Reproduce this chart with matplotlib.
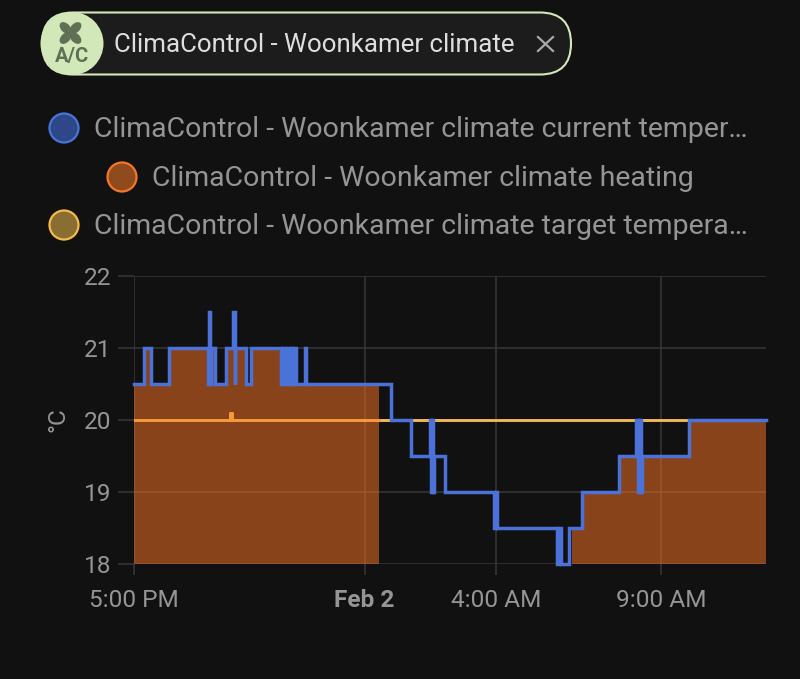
"""Home Assistant climate history card, dark theme."""

import matplotlib
matplotlib.use("Agg")
import matplotlib.pyplot as plt
import numpy as np
from matplotlib.patches import Circle, Ellipse, FancyBboxPatch

plt.rcParams["font.family"] = ["Roboto", "DejaVu Sans"]

# hours after 5:00 PM, and the measured temperature from that moment on
current_hours = [
    0.00, 0.30, 0.53, 1.06, 2.25, 2.28, 2.32, 2.34, 2.46, 2.78, 3.00, 3.05, 3.07,
    3.40, 3.54, 4.45, 4.51, 4.57, 4.63, 4.69, 4.75, 4.81, 4.87, 4.93, 4.98, 5.20, 5.23,
    7.44, 7.79, 8.40, 8.98, 9.02, 9.05, 9.08, 9.09, 9.43, 10.93, 10.98, 11.03,
    12.85, 12.90, 12.96, 13.21, 13.28, 13.59, 14.72,
    15.24, 15.29, 15.34, 15.39, 15.41, 16.84, 19.18,
]
current_temp = [
    20.5, 21.0, 20.5, 21.0, 20.5, 21.5, 20.5, 21.0, 20.5, 21.0, 21.5, 20.5, 21.0,
    20.5, 21.0, 20.5, 21.0, 20.5, 21.0, 20.5, 21.0, 20.5, 21.0, 20.5, 20.5, 21.0, 20.5,
    20.5, 20.0, 19.5, 20.0, 19.0, 20.0, 19.0, 19.5, 19.0, 18.5, 19.0, 18.5,
    18.0, 18.5, 18.0, 18.5, 18.5, 19.0, 19.5,
    20.0, 19.0, 20.0, 19.0, 19.5, 20.0, 20.0,
]
target_hours = [0.00, 2.90, 2.96, 19.18]
target_temp = [20.0, 20.1, 20.0, 20.0]
heating_spans = [(0.00, 7.44), (13.28, 19.18)]

x_ticks = [0, 7, 11, 16]
x_labels = ["5:00 PM", "Feb 2", "4:00 AM", "9:00 AM"]
y_ticks = [18, 19, 20, 21, 22]

legend_labels = [
    "ClimaControl - Woonkamer climate current temper…",
    "ClimaControl - Woonkamer climate heating",
    "ClimaControl - Woonkamer climate target tempera…",
]

BG = "#111111"
GRID = "#383838"
TEXT = "#959595"
BLUE = "#4a72d8"
ORANGE = "#ff7523"
YELLOW = "#eeb955"
GREEN = "#d3e8b9"
ICON = "#5f7056"

fig = plt.figure(figsize=(8, 6.79), dpi=100, facecolor=BG)

# overlay in pixel coordinates for the chip and the legend
top = fig.add_axes([0, 0, 1, 1])
top.set_xlim(0, 800); top.set_ylim(679, 0); top.axis("off")

chip = FancyBboxPatch((42, 12.5), 529, 62, boxstyle="round,pad=0,rounding_size=31",
                      fc="#1c1c1c", ec=GREEN, lw=1.5)
top.add_patch(chip)
top.add_patch(Circle((72, 43.5), 31.5, fc=GREEN, ec="none"))
# fan blades of the A/C icon
for dx, dy, ang in [(-5, -5, 45), (5, -5, -45), (-5, 5, -45), (5, 5, 45)]:
    top.add_patch(Ellipse((70.5 + dx, 33 + dy), 14, 9, angle=ang, fc=ICON, ec="none"))
top.add_patch(Circle((70.5, 33), 3.5, fc=ICON, ec="none"))
top.text(72.5, 56.5, "A/C", color=ICON, fontsize=14.5, fontweight="bold", ha="center", va="center")
top.text(114, 45.5, "ClimaControl - Woonkamer climate", color="#dedede", fontsize=18.6,
         ha="left", va="center")
top.plot([538, 553], [37, 51], color="#a8a8a8", lw=1.6)
top.plot([538, 553], [51, 37], color="#a8a8a8", lw=1.6)

legend_pos = [(64, 128), (122, 177), (64, 225)]
legend_fill = ["#2e4788", "#8f4a1e", "#8a6d30"]
legend_edge = [BLUE, "#f4762a", "#f5b94c"]
for (x, y), fc, ec, label in zip(legend_pos, legend_fill, legend_edge, legend_labels):
    top.add_patch(Circle((x, y), 14.5, fc=fc, ec=ec, lw=1.6))
    top.text(x + 30, y + 1.5, label, color=TEXT, fontsize=20.5, ha="left", va="center")

ax = fig.add_axes([134 / 800, 1 - 564 / 679, 632 / 800, 288 / 679])
ax.set_facecolor("none")
ax.set_xlim(0, 19.18); ax.set_ylim(18, 22)
for spine in ax.spines.values():
    spine.set_visible(False)
ax.set_xticks(x_ticks, x_labels)
ax.set_yticks(y_ticks)
ax.tick_params(axis="x", length=8, width=1.1, color=GRID, labelcolor=TEXT, labelsize=17.6, pad=10)
ax.tick_params(axis="y", length=11.5, width=1.1, color=GRID, labelcolor=TEXT, labelsize=17.6, pad=4.5)
ax.xaxis.get_ticklabels()[1].set_fontweight("bold")
ax.grid(color=GRID, lw=1.1)
ax.set_axisbelow(True)
ax.set_ylabel("°C", color=TEXT, fontsize=17.6, labelpad=11)

hours = np.array(current_hours)
temps = np.array(current_temp)

ax.plot(target_hours, target_temp, color=YELLOW, lw=2.1, drawstyle="steps-post", zorder=3)

mask = np.zeros(len(hours), dtype=bool)
for start, end in heating_spans:
    mask |= (hours >= start) & (hours <= end)
ax.fill_between(hours, 18, temps, where=mask, step="post", color=ORANGE, alpha=0.5, lw=0, zorder=4)

# target line reads orange where it lies on the heating area
first_end = heating_spans[0][1]
keep = [i for i, h in enumerate(target_hours) if h < first_end]
ax.plot([target_hours[i] for i in keep] + [first_end], [target_temp[i] for i in keep] + [20.0],
        color="#f7983c", lw=2.1, drawstyle="steps-post", zorder=5)

ax.plot(hours, temps, color=BLUE, lw=2.5, drawstyle="steps-post", clip_on=False,
        solid_joinstyle="miter", zorder=6)

fig.savefig("out.png", dpi=100, facecolor=BG)
